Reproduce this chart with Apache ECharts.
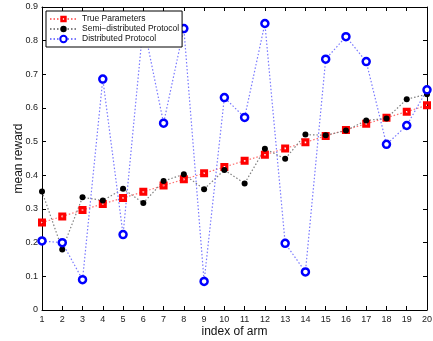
<!DOCTYPE html>
<html>
<head>
<meta charset="utf-8">
<script src="https://cdn.jsdelivr.net/npm/echarts@6/dist/echarts.min.js"></script>
<style>html,body{margin:0;padding:0;background:#fff}#c{width:433px;height:341px}</style>
</head>
<body>
<div id="c"></div>
<script>
var arms = [1,2,3,4,5,6,7,8,9,10,11,12,13,14,15,16,17,18,19,20];
var trueParams = [0.260,0.278,0.297,0.315,0.333,0.351,0.370,0.388,0.406,0.425,0.443,0.461,0.480,0.498,0.517,0.535,0.553,0.571,0.589,0.608];
var semiDist = [0.352,0.180,0.335,0.325,0.360,0.318,0.383,0.403,0.359,0.416,0.376,0.479,0.449,0.521,0.519,0.533,0.563,0.569,0.626,0.641];
var distProt = [0.205,0.200,0.090,0.686,0.224,0.850,0.555,0.836,0.085,0.631,0.572,0.851,0.198,0.113,0.745,0.812,0.738,0.492,0.548,0.654];
var seriesNames = ['True Parameters','Semi\u2212distributed Protocol','Distributed Protocol'];
var xLabelName = 'index of arm';
var yLabelName = 'mean reward';

function pairs(v){ return arms.map(function(a,i){ return [a, v[i]]; }); }
var FONT = '"Liberation Sans", Arial, Helvetica, sans-serif';
var chart = echarts.init(document.getElementById('c'), null, {renderer:'canvas'});
var axisBase = {
  axisLine:{show:true, onZero:false, lineStyle:{color:'#000', width:1}},
  axisTick:{show:true, inside:true, length:4, lineStyle:{color:'#000'}},
  splitLine:{show:false}
};
chart.setOption({
  animation:false,
  textStyle:{fontFamily:FONT},
  grid:{left:42, right:6, top:7, bottom:31, containLabel:false, outerBoundsMode:'none'},
  legend:{
    left:46, top:11, orient:'vertical', z:10,
    itemWidth:27, itemHeight:8, itemGap:0,
    padding:[3,3,3,3],
    borderColor:'#000', borderWidth:1, backgroundColor:'#fff',
    textStyle:{fontSize:8.5, lineHeight:10, color:'#111', fontFamily:FONT},
    data:seriesNames
  },
  xAxis:[
    Object.assign({type:'value', min:1, max:20, interval:1, position:'bottom',
      name:xLabelName, nameLocation:'middle', nameGap:16, nameMoveOverlap:false,
      nameTextStyle:{fontSize:12, color:'#111', fontFamily:FONT},
      axisLabel:{fontSize:9, color:'#222', margin:5}}, axisBase),
    Object.assign({type:'value', min:1, max:20, interval:1, position:'top',
      axisLabel:{show:false}}, axisBase)
  ],
  yAxis:[
    Object.assign({type:'value', min:0, max:0.9, interval:0.1, position:'left',
      name:yLabelName, nameLocation:'middle', nameGap:17, nameRotate:90, nameMoveOverlap:false,
      nameTextStyle:{fontSize:12, color:'#111', fontFamily:FONT},
      axisLabel:{fontSize:9, color:'#222', margin:4,
        formatter:function(v){ return v===0 ? '0' : String(+v.toFixed(1)); }}}, axisBase),
    Object.assign({type:'value', min:0, max:0.9, interval:0.1, position:'right',
      axisLabel:{show:false}}, axisBase)
  ],
  series:[
    {name:seriesNames[0], type:'line', data:pairs(trueParams),
     symbol:'path://M0,0H10V10H0Z M4,4V6H6V4Z', symbolSize:8,
     lineStyle:{type:[1.5,2], width:1.2, color:'#ff7070'},
     itemStyle:{color:'#ff0000', borderWidth:0}},
    {name:seriesNames[1], type:'line', data:pairs(semiDist),
     symbol:'circle', symbolSize:6,
     lineStyle:{type:[1.5,2], width:1.2, color:'#808080'},
     itemStyle:{color:'#000', borderWidth:0}},
    {name:seriesNames[2], type:'line', data:pairs(distProt),
     symbol:'circle', symbolSize:7,
     lineStyle:{type:[1.5,2], width:1.2, color:'#7878ff'},
     itemStyle:{color:'#fff', borderColor:'#0000ff', borderWidth:2.5}}
  ]
});
</script>
</body>
</html>
